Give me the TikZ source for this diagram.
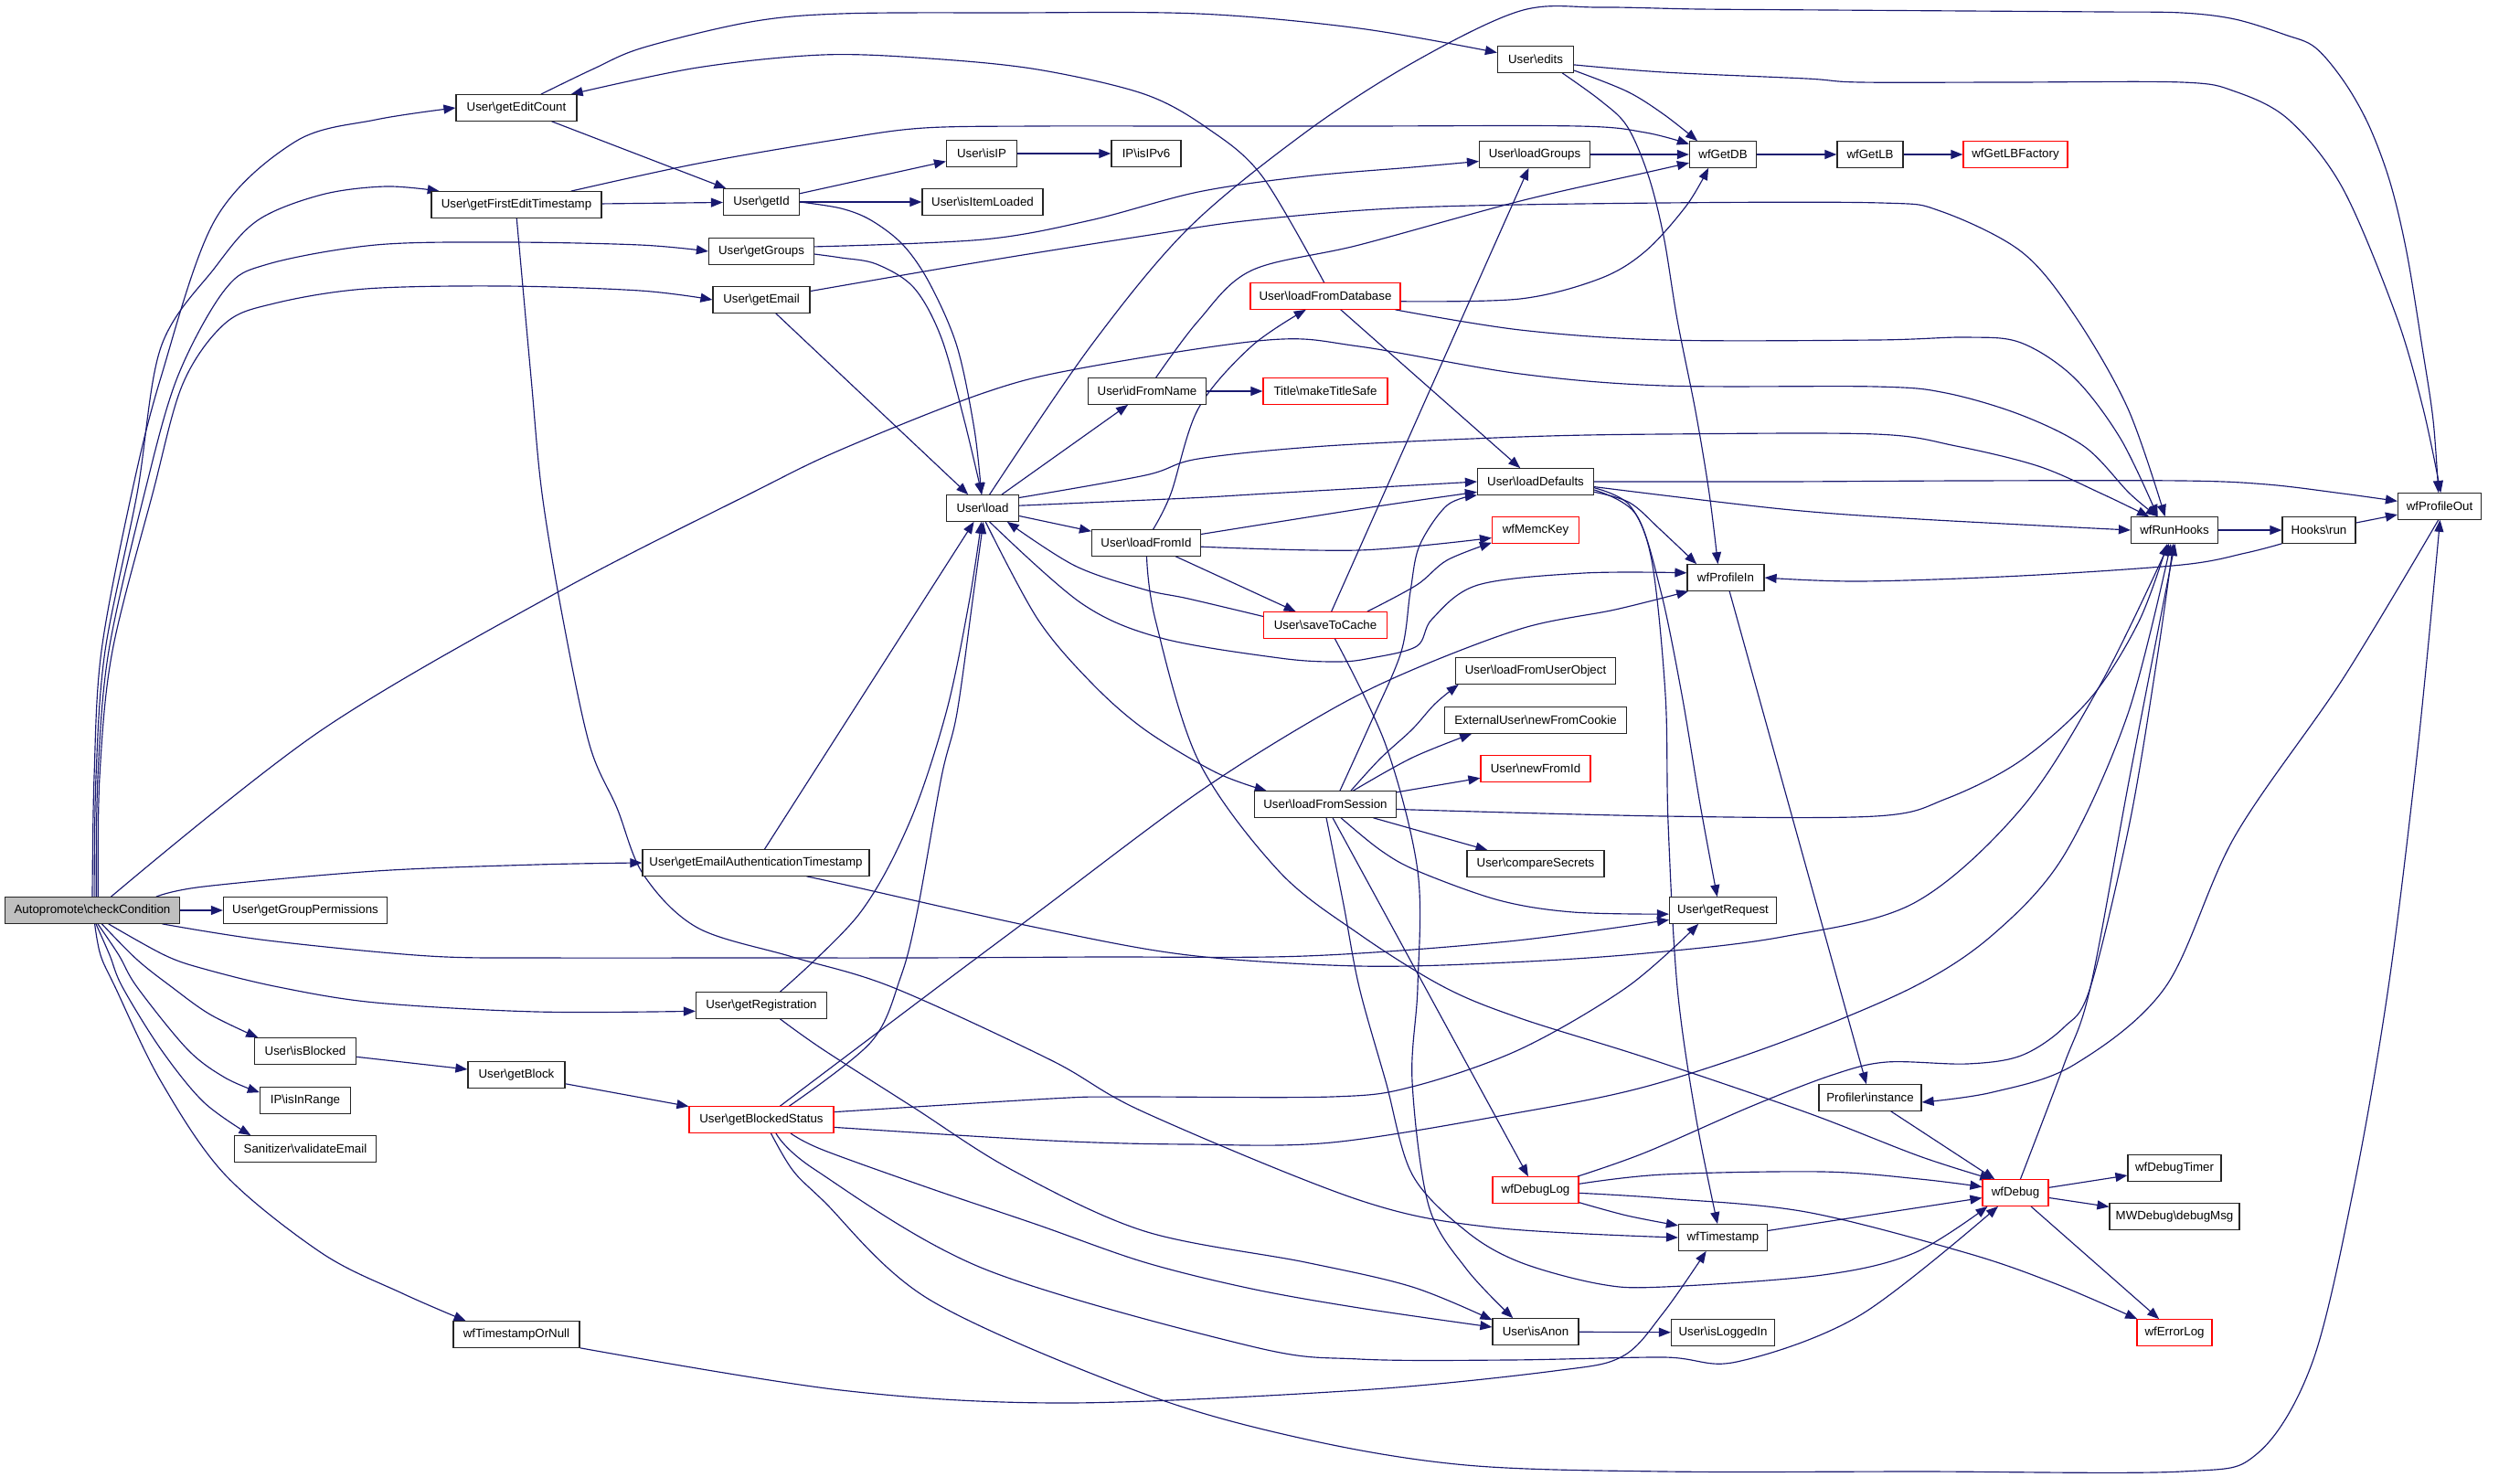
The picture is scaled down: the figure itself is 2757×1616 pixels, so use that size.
\documentclass[tikz,border=0pt]{standalone}
\usepackage{fontspec}
\setmainfont{Liberation Sans}
\usetikzlibrary{arrows.meta,backgrounds}
\definecolor{edgeblue}{RGB}{25,25,112}
\newcommand{\Bk}{\textbackslash}
\tikzset{
  nd/.style={draw=black!85, line width=1.2pt, fill=white, minimum height=28.5pt,
    inner xsep=2pt, inner ysep=0pt, font=\fontsize{13.3}{15}\selectfont},
  rd/.style={nd, draw=red},
  rootnd/.style={nd, fill=black!25},
  e/.style={draw=edgeblue, line width=1.15pt, -{Triangle[length=13pt,width=10pt]}},
  sm/.style={smooth, tension=0.55}
}
\begin{document}
\begin{tikzpicture}[x=1pt,y=-1pt]
\useasboundingbox (0,0) rectangle (2757,1616);
% nodes
\node[rootnd, minimum width=191pt] (root) at (101,996) {Autopromote\Bk checkCondition};
\node[nd, minimum width=179pt] (ggp) at (334,996) {User\Bk getGroupPermissions};
\node[nd, minimum width=111pt] (isBlocked) at (334,1150) {User\Bk isBlocked};
\node[nd, minimum width=99pt] (isInRange) at (334,1204) {IP\Bk isInRange};
\node[nd, minimum width=155pt] (validEmail) at (334,1257) {Sanitizer\Bk validateEmail};
\node[nd, minimum width=132pt] (editCount) at (565,118) {User\Bk getEditCount};
\node[nd, minimum width=186pt] (firstEdit) at (565,224) {User\Bk getFirstEditTimestamp};
\node[nd, minimum width=106pt] (getBlock) at (565,1176) {User\Bk getBlock};
\node[nd, minimum width=138pt] (tsOrNull) at (565,1460) {wfTimestampOrNull};
\node[nd, minimum width=83pt] (getId) at (833,221) {User\Bk getId};
\node[nd, minimum width=115pt] (getGroups) at (833,275) {User\Bk getGroups};
\node[nd, minimum width=106pt] (getEmail) at (833,328) {User\Bk getEmail};
\node[nd, minimum width=248pt] (emailAuth) at (827,944) {User\Bk getEmailAuthenticationTimestamp};
\node[nd, minimum width=143pt] (getReg) at (833,1100) {User\Bk getRegistration};
\node[rd, minimum width=158pt] (blocked) at (833,1225) {User\Bk getBlockedStatus};
\node[nd, minimum width=77pt] (isIP) at (1074,168) {User\Bk isIP};
\node[nd, minimum width=132pt] (itemLoaded) at (1075,221) {User\Bk isItemLoaded};
\node[nd, minimum width=79pt] (load) at (1075,556) {User\Bk load};
\node[nd, minimum width=76pt] (isIPv6) at (1254,168) {IP\Bk isIPv6};
\node[nd, minimum width=129pt] (idFromName) at (1255,428) {User\Bk idFromName};
\node[nd, minimum width=119pt] (loadFromId) at (1254,594) {User\Bk loadFromId};
\node[rd, minimum width=164pt] (loadFromDB) at (1450,324) {User\Bk loadFromDatabase};
\node[rd, minimum width=136pt] (makeTitle) at (1450,428) {Title\Bk makeTitleSafe};
\node[rd, minimum width=135pt] (saveToCache) at (1450,684) {User\Bk saveToCache};
\node[nd, minimum width=155pt] (loadFromSession) at (1450,880) {User\Bk loadFromSession};
\node[nd, minimum width=83pt] (edits) at (1680,65) {User\Bk edits};
\node[nd, minimum width=121pt] (loadGroups) at (1679,169) {User\Bk loadGroups};
\node[nd, minimum width=127pt] (loadDefaults) at (1680,527) {User\Bk loadDefaults};
\node[rd, minimum width=95pt] (memcKey) at (1680,580) {wfMemcKey};
\node[nd, minimum width=175pt] (fromUserObj) at (1680,734) {User\Bk loadFromUserObject};
\node[nd, minimum width=199pt] (newFromCookie) at (1680,788) {ExternalUser\Bk newFromCookie};
\node[rd, minimum width=120pt] (newFromId) at (1680,841) {User\Bk newFromId};
\node[nd, minimum width=150pt] (compareSecrets) at (1680,945) {User\Bk compareSecrets};
\node[rd, minimum width=94pt] (debugLog) at (1680,1302) {wfDebugLog};
\node[nd, minimum width=94pt] (isAnon) at (1680,1457) {User\Bk isAnon};
\node[nd, minimum width=73pt] (getDB) at (1885,169) {wfGetDB};
\node[nd, minimum width=84pt] (profileIn) at (1888,632) {wfProfileIn};
\node[nd, minimum width=117pt] (getRequest) at (1885,996) {User\Bk getRequest};
\node[nd, minimum width=97pt] (timestamp) at (1885,1354) {wfTimestamp};
\node[nd, minimum width=113pt] (isLoggedIn) at (1885,1458) {User\Bk isLoggedIn};
\node[nd, minimum width=72pt] (getLB) at (2046,169) {wfGetLB};
\node[nd, minimum width=112pt] (profiler) at (2046,1201) {Profiler\Bk instance};
\node[rd, minimum width=114pt] (getLBFactory) at (2205,169) {wfGetLBFactory};
\node[rd, minimum width=72pt] (debug) at (2205,1305) {wfDebug};
\node[nd, minimum width=95pt] (runHooks) at (2379,580) {wfRunHooks};
\node[nd, minimum width=102pt] (debugTimer) at (2379,1278) {wfDebugTimer};
\node[nd, minimum width=142pt] (debugMsg) at (2379,1331) {MWDebug\Bk debugMsg};
\node[rd, minimum width=82pt] (errorLog) at (2379,1458) {wfErrorLog};
\node[nd, minimum width=80pt] (hooksRun) at (2537,580) {Hooks\Bk run};
\node[nd, minimum width=91pt] (profileOut) at (2669,554) {wfProfileOut};

\begin{pgfonlayer}{background}
% from root
\draw[e] plot[sm] coordinates {(root.90) (103,850) (111,712) (144,540) (176,413) (235,241) (323,155) (411,131) (editCount.west)};
\draw[e] plot[sm] coordinates {(root.82) (105,850) (115,712) (150,540) (176,380) (235,293) (282,241) (352,213) (422,204) (firstEdit.170)};
\draw[e] plot[sm] coordinates {(root.74) (107,850) (119,712) (158,540) (194,413) (246,317) (293,289) (411,268) (551,265) (700,268) (getGroups.west)};
\draw[e] plot[sm] coordinates {(root.67) (109,850) (123,712) (167,540) (200,420) (246,354) (300,332) (400,316) (551,313) (700,318) (getEmail.west)};
\draw[e] plot[sm] coordinates {(root.36) (350,800) (610,648) (821,540) (920,492) (1076,430) (1182,403) (1387,372) (1487,379) (1663,409) (1820,422) (2052,423) (2129,430) (2211,454) (2281,489) (2330,540) (runHooks.141)};
\draw[e] plot[sm] coordinates {(root.12) (223,970) (411,953) (587,946) (emailAuth.west)};
\draw[e] (root) -- (ggp);
\draw[e] plot[sm] coordinates {(root.-11) (293,1029) (469,1046) (600,1048) (800,1048) (1000,1048) (1200,1047) (1428,1046) (1650,1030) (getRequest.190)};
\draw[e] plot[sm] coordinates {(root.-40) (180,1045) (223,1060) (305,1080) (411,1097) (587,1107) (getReg.185)};
\draw[e] plot[sm] coordinates {(root.-55) (150,1050) (188,1080) (230,1110) (isBlocked.164)};
\draw[e] plot[sm] coordinates {(root.-68) (130,1045) (150,1080) (205,1148) (246,1179) (isInRange.170)};
\draw[e] plot[sm] coordinates {(root.-75) (120,1045) (134,1080) (176,1148) (223,1206) (validEmail.166)};
\draw[e] plot[sm] coordinates {(root.-80) (110,1045) (126,1080) (176,1183) (246,1285) (352,1371) (440,1415) (tsOrNull.165)};
% rank 1
\draw[e] plot[sm] coordinates {(editCount.29) (650,75) (704,52) (821,24) (920,15) (1100,14) (1311,15) (1487,31) (edits.170)};
\draw[e] plot[sm] coordinates {(loadFromDB.95) (1381,193) (1322,141) (1252,103) (1135,76) (1017,64) (900,60) (763,74) (editCount.14)};
\draw[e] (editCount) -- (getId);
\draw[e] (firstEdit) -- (getId);
\draw[e] plot[sm] coordinates {(firstEdit.14) (763,179) (920,152) (1011,140) (1135,138) (1300,138) (1487,138) (1727,138) (1800,145) (getDB.163)};
\draw[e] plot[sm] coordinates {(firstEdit.-89) (581,413) (593,540) (616,678) (645,815) (675,884) (704,957) (763,1015) (867,1047) (976,1080) (1150,1160) (1252,1217) (1487,1313) (1633,1343) (timestamp.west)};
\draw[e] plot[sm] coordinates {(tsOrNull.-12) (920,1521) (1164,1535) (1487,1521) (1700,1500) (1775,1484) (1820,1436) (timestamp.-141)};
\draw[e] (isBlocked) -- (getBlock);
\draw[e] (getBlock) -- (blocked);
% rank 2
\draw[e] (getId) -- (isIP);
\draw[e] (getId) -- (itemLoaded);
\draw[e] plot[sm] coordinates {(getId.east) (920,228) (953,241) (988,268) (1017,310) (1047,379) (1066,470) (load.95)};
\draw[e] plot[sm] coordinates {(getGroups.5) (1076,262) (1193,241) (1311,210) (1428,193) (1545,183) (loadGroups.187)};
\draw[e] plot[sm] coordinates {(getGroups.-3) (920,282) (959,289) (1000,315) (1030,370) (1055,460) (load.93)};
\draw[e] (getEmail) -- (load);
\draw[e] plot[sm] coordinates {(getEmail.10) (1076,286) (1252,258) (1369,241) (1545,227) (1820,222) (2058,222) (2123,231) (2211,275) (2269,344) (2328,447) (runHooks.125)};
\draw[e] (emailAuth) -- (load);
\draw[e] plot[sm] coordinates {(emailAuth.-15) (920,967) (1135,1015) (1300,1045) (1487,1057) (1650,1053) (1800,1043) (1950,1025) (2094,988) (2211,885) (2299,747) (runHooks.-112)};
\draw[e] plot[sm] coordinates {(getReg.36) (940,1000) (995,900) (1035,780) (1060,660) (load.-95)};
\draw[e] plot[sm] coordinates {(getReg.-36) (900,1148) (1000,1212) (1107,1280) (1252,1347) (1428,1381) (1545,1408) (isAnon.165)};
\draw[e] plot[sm] coordinates {(blocked.26) (953,1140) (985,1070) (1003,1000) (1030,850) (1047,780) (1065,650) (load.-87)};
\draw[e] plot[sm] coordinates {(blocked.36) (1026,1080) (1133,1000) (1311,867) (1450,780) (1545,733) (1667,687) (1767,667) (profileIn.200)};
\draw[e] plot[sm] coordinates {(blocked.6) (1150,1202) (1229,1200) (1457,1200) (1545,1189) (1663,1148) (1780,1080) (getRequest.209)};
\draw[e] plot[sm] coordinates {(blocked.-6) (1150,1248) (1300,1252) (1457,1250) (1663,1217) (1800,1189) (1950,1140) (2093,1080) (2181,1022) (2258,936) (2328,781) (runHooks.-105)};
\draw[e] plot[sm] coordinates {(blocked.-25) (900,1258) (1017,1300) (1135,1340) (1252,1381) (1369,1410) (1487,1431) (isAnon.174)};
\draw[e] plot[sm] coordinates {(blocked.-43) (892,1280) (1076,1388) (1369,1473) (1487,1487) (1650,1488) (1820,1485) (1900,1490) (2035,1439) (debug.-142)};
\draw[e] plot[sm] coordinates {(blocked.-55) (867,1280) (900,1313) (1017,1422) (1252,1525) (1430,1575) (1604,1603) (1820,1610) (2100,1610) (2387,1610) (2470,1590) (2530,1490) (2575,1300) (2613,1080) (2645,820) (profileOut.-88)};
% rank 3
\draw[e] (isIP) -- (isIPv6);
\draw[e] (load) -- (loadFromId);
\draw[e] (load) -- (idFromName);
\draw[e] plot[sm] coordinates {(load.63) (1193,379) (1300,250) (1428,145) (1545,69) (1663,12) (1750,8) (1859,10) (2000,11) (2150,12) (2300,13) (2387,14) (2445,21) (2500,38) (2533,52) (2565,90) (2592,138) (2615,200) (2633,276) (2650,380) (2662,460) (profileOut.95)};
\draw[e] plot[sm] coordinates {(load.4) (1300,545) (1387,540) (loadDefaults.180)};
\draw[e] plot[sm] coordinates {(load.16) (1253,520) (1311,502) (1450,488) (1663,478) (1820,475) (2052,475) (2140,488) (2230,510) (2299,540) (runHooks.152)};
\draw[e] plot[sm] coordinates {(load.-78) (1135,677) (1193,746) (1252,798) (1330,845) (loadFromSession.167)};
\draw[e] plot[sm] coordinates {(load.-63) (1183,660) (1270,698) (1400,720) (1463,724) (1500,720) (1550,707) (1567,677) (1617,640) (1733,627) (profileIn.173)};
\draw[e] plot[sm] coordinates {(saveToCache.172) (1300,655) (1252,645) (1176,619) (load.-29)};
\draw[e] (idFromName) -- (makeTitle);
\draw[e] plot[sm] coordinates {(idFromName.57) (1311,351) (1369,296) (1487,268) (1663,220) (1800,189) (getDB.194)};
\draw[e] plot[sm] coordinates {(loadFromId.63) (1281,540) (1311,447) (1369,379) (loadFromDB.215)};
\draw[e] plot[sm] coordinates {(loadFromId.9) (1500,555) (loadDefaults.190)};
\draw[e] plot[sm] coordinates {(loadFromId.-4) (1487,602) (memcKey.190)};
\draw[e] (loadFromId) -- (saveToCache);
\draw[e] plot[sm] coordinates {(loadFromId.-88) (1264,678) (1311,832) (1399,953) (1487,1022) (1580,1080) (1663,1114) (1800,1157) (1976,1217) (2100,1265) (debug.150)};
% rank 4
\draw[e] plot[sm] coordinates {(loadFromDB.-4) (1663,327) (1750,305) (1800,275) (1845,225) (getDB.223)};
\draw[e] plot[sm] coordinates {(loadFromDB.-11) (1663,361) (1820,372) (2052,372) (2152,369) (2211,375) (2269,413) (2320,480) (runHooks.141)};
\draw[e] (loadFromDB) -- (loadDefaults);
\draw[e] plot[sm] coordinates {(saveToCache.18) (1550,640) (1583,613) (memcKey.196)};
\draw[e] (saveToCache) -- (loadGroups);
\draw[e] plot[sm] coordinates {(saveToCache.-55) (1516,815) (1551,953) (1551,1080) (1545,1183) (1563,1319) (1604,1388) (isAnon.149)};
\draw[e] plot[sm] coordinates {(loadFromSession.28) (1510,830) (1545,798) (1570,770) (fromUserObj.190)};
\draw[e] plot[sm] coordinates {(loadFromSession.26) (1545,829) (newFromCookie.192)};
\draw[e] (loadFromSession) -- (newFromId);
\draw[e] (loadFromSession) -- (compareSecrets);
\draw[e] plot[sm] coordinates {(loadFromSession.-4) (1820,893) (2052,893) (2129,874) (2211,832) (2287,764) (2340,680) (runHooks.-118)};
\draw[e] plot[sm] coordinates {(loadFromSession.-41) (1510,930) (1551,953) (1640,985) (1721,998) (getRequest.184)};
\draw[e] plot[sm] coordinates {(loadFromSession.43) (1500,790) (1533,713) (1543,647) (1553,597) (1583,553) (loadDefaults.south west)};
\draw[e] (loadFromSession) -- (debugLog);
\draw[e] plot[sm] coordinates {(loadFromSession.-86) (1470,990) (1487,1080) (1516,1183) (1545,1285) (1604,1347) (1663,1381) (1751,1405) (1820,1408) (1994,1395) (2094,1371) (debug.-154)};
% rank 5
\draw[e] plot[sm] coordinates {(loadDefaults.0) (1950,527) (2150,526) (2387,526) (2480,530) (2563,540) (profileOut.173)};
\draw[e] plot[sm] coordinates {(loadDefaults.-5) (1950,557) (2100,568) (runHooks.west)};
\draw[e] plot[sm] coordinates {(loadDefaults.-10) (1783,550) (1817,580) (profileIn.155)};
\draw[e] plot[sm] coordinates {(loadDefaults.-8) (1790,563) (1817,647) (1840,760) (1860,880) (getRequest.113)};
\draw[e] plot[sm] coordinates {(loadDefaults.-6) (1783,553) (1807,613) (1822,760) (1825,900) (1835,1080) (1855,1220) (timestamp.112)};
\draw[e] plot[sm] coordinates {(edits.-16) (1780,100) (1820,125) (getDB.152)};
\draw[e] plot[sm] coordinates {(edits.-27) (1751,110) (1780,138) (1803,191) (1820,258) (1835,350) (1855,450) (1870,540) (profileIn.120)};
\draw[e] plot[sm] coordinates {(edits.-8) (1820,79) (1976,86) (2035,90) (2200,90) (2387,90) (2445,100) (2504,131) (2563,206) (2621,344) (2651,447) (profileOut.85)};
\draw[e] (loadGroups) -- (getDB);
\draw[e] plot[sm] coordinates {(debugLog.18) (1800,1261) (1917,1210) (2005,1176) (2064,1162) (2152,1164) (2211,1155) (2258,1124) (2287,1080) (2330,900) (2360,720) (runHooks.-95)};
\draw[e] plot[sm] coordinates {(debugLog.8) (1820,1285) (1994,1282) (2100,1290) (debug.170)};
\draw[e] plot[sm] coordinates {(debugLog.-4) (1820,1311) (1976,1326) (2152,1371) (2250,1405) (errorLog.160)};
\draw[e] plot[sm] coordinates {(debugLog.-16) (1780,1330) (timestamp.165)};
\draw[e] (isAnon) -- (isLoggedIn);
% rank 6+
\draw[e] (getDB) -- (getLB);
\draw[e] (getLB) -- (getLBFactory);
\draw[e] (timestamp) -- (debug);
\draw[e] (profiler) -- (debug);
\draw[e] (profileIn) -- (profiler);
\draw[e] (debug) -- (debugTimer);
\draw[e] (debug) -- (debugMsg);
\draw[e] (debug) -- (errorLog);
\draw[e] plot[sm] coordinates {(debug.70) (2258,1165) (2287,1080) (2330,850) (runHooks.-88)};
\draw[e] (runHooks) -- (hooksRun);
\draw[e] (hooksRun) -- (profileOut);
\draw[e] plot[sm] coordinates {(hooksRun.-160) (2457,605) (2387,618) (2211,630) (2035,636) (profileIn.east)};
\draw[e] plot[sm] coordinates {(profileOut.-95) (2563,743) (2445,915) (2369,1080) (2269,1165) (2180,1195) (profiler.-5)};
\end{pgfonlayer}
\end{tikzpicture}
\end{document}
